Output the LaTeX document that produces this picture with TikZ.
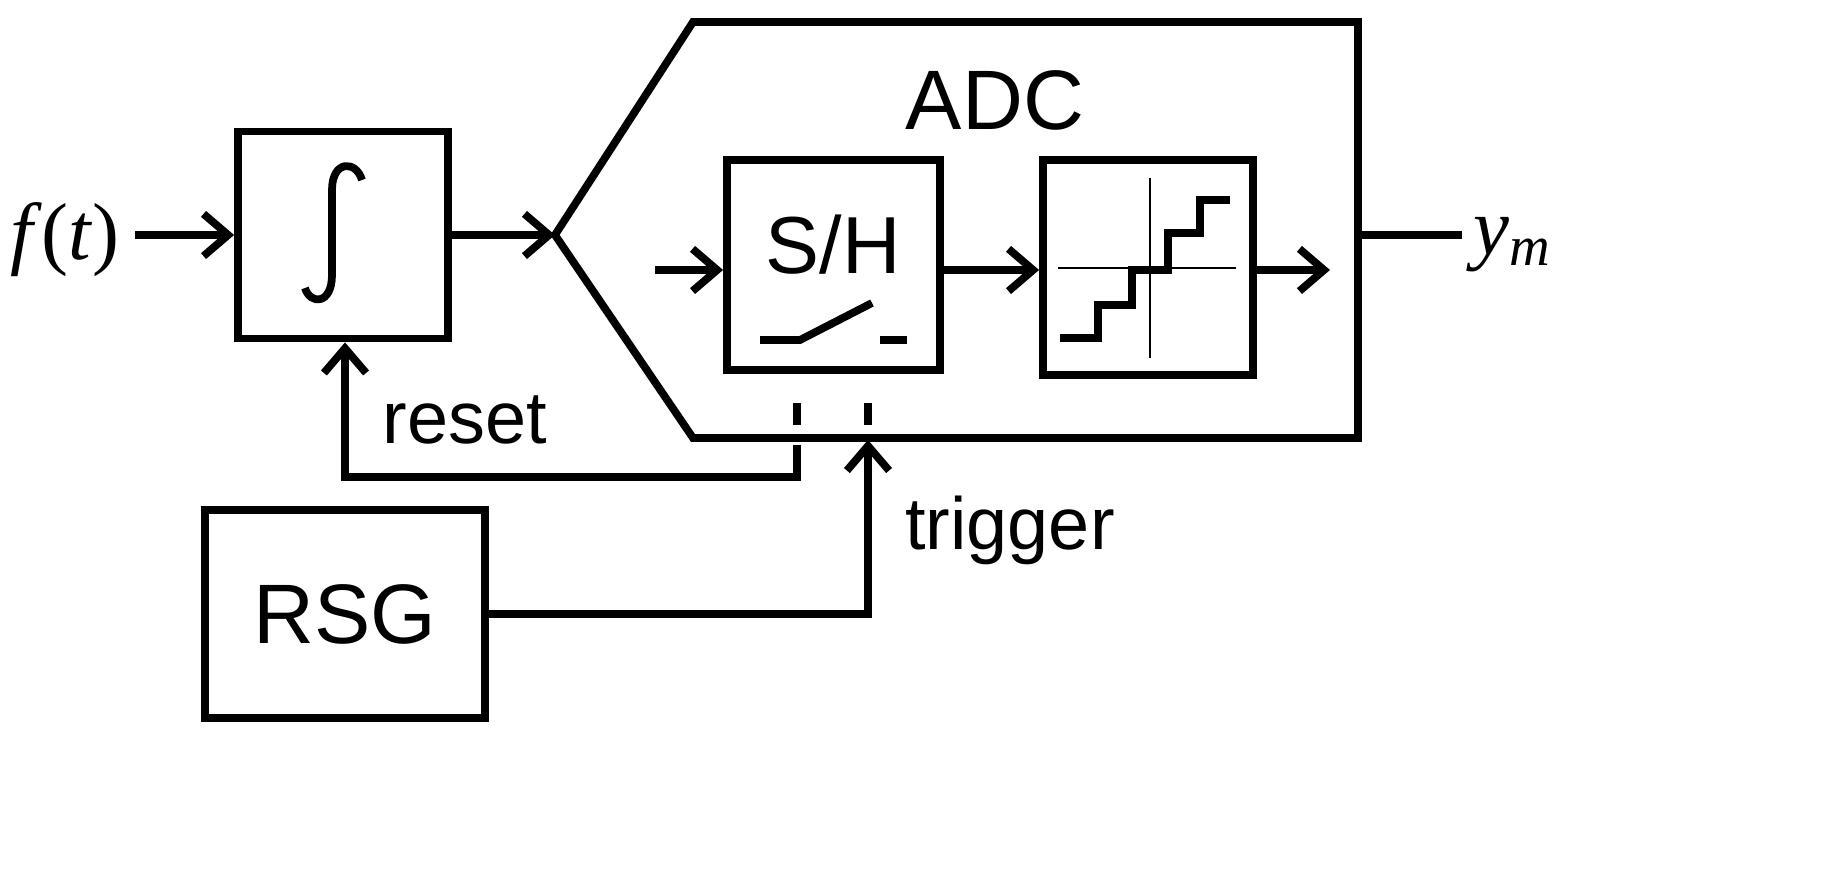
\documentclass[tikz,border=0pt]{standalone}
\usepackage{fontspec}
\setmainfont{Liberation Sans}
\newfontfamily\mathserif{Liberation Serif}
\usetikzlibrary{arrows.meta}
\begin{document}
\begin{tikzpicture}[x=0.01cm,y=-0.01cm,
  wire/.style={line width=2.2pt},
  arr/.style={wire,-{Straight Barb[length=7pt,width=12pt,line width=2.2pt]}},
  blk/.style={wire,draw,inner sep=0pt},
  lbl/.style={inner sep=0pt,font=\fontsize{21}{24}\selectfont}]
% blocks
\node[blk,minimum width=2.1cm,minimum height=2.07cm] (int) at (343,235) {};
\node[blk,minimum width=2.13cm,minimum height=2.1cm] (sh) at (833.5,265) {};
\node[blk,minimum width=2.1cm,minimum height=2.15cm] (q) at (1148,267.5) {};
\node[blk,minimum width=2.8cm,minimum height=2.08cm] (rsg) at (345,614) {};
\draw[wire] (555,235) -- (693,22) -- (1358,22) -- (1358,438) -- (693,438) -- cycle;
\coordinate (adcin) at (555,235);
% texts
\node[lbl,font=\fontsize{24}{28}\selectfont] (adc) at (995,100) {ADC};
\node[lbl,font=\fontsize{23}{28}\selectfont] (shl) at (833,245) {S/H};
\node[lbl,font=\fontsize{24}{28}\selectfont] (rsgl) at (345,614) {RSG};
\node[lbl] (rst) at (465,420) {reset};
\node[lbl] (trg) at (1010,530) {trigger};
\node[lbl,font=\mathserif\fontsize{23}{28}\selectfont] (f) at (65,240) {\textit{f}(\textit{t})};
\node[lbl,font=\mathserif\itshape\fontsize{23}{28}\selectfont] (y) at (1512,245) {y\raisebox{-0.3ex}{\fontsize{16}{18}\selectfont m}};
% integral sign
\draw[wire] (362,180) .. controls (356,160) and (332,160) .. (332,190) -- (332,275)
  .. controls (332,305) and (310,305) .. (305,288);
% switch
\draw[wire] (760,340) -- (800,340) -- (872,303);
\draw[wire] (880,340) -- (907,340);
% quantizer
\draw[line width=0.8pt] (1058,268) -- (1236,268);
\draw[line width=0.8pt] (1150,178) -- (1150,358);
\draw[wire] (1060,338) -- (1098,338) -- (1098,305) -- (1132,305) -- (1132,270)
  -- (1168,270) -- (1168,233) -- (1200,233) -- (1200,200) -- (1230,200);
% signal path
\coordinate (fin) at (135,235);
\draw[arr] (fin) -- (int.west);
\draw[arr] (int.east) -- (adcin);
\coordinate (shin) at (655,270);
\draw[arr] (shin) -- (sh.west |- shin);
\draw[arr] (sh.east |- shin) -- (q.west |- shin);
\coordinate (qout) at (1330,270);
\draw[arr] (q.east |- shin) -- (qout);
\coordinate (out) at (1462,235);
\draw[wire] (1358,235) -- (out);
% dashed control lines
\draw[wire] (797,403) -- (797,425);
\draw[wire] (868,403) -- (868,425);
\coordinate (r0) at (797,445);
\coordinate (r1) at (345,477);
\draw[arr] (r0) -- (797,477) -- (r1) -- (int.south -| r1);
\coordinate (t1) at (868,440);
\draw[arr] (rsg.east) -- (868,614) -- (t1);
\pgfresetboundingbox
\useasboundingbox (0,0) rectangle (1848,871);
\end{tikzpicture}
\end{document}
